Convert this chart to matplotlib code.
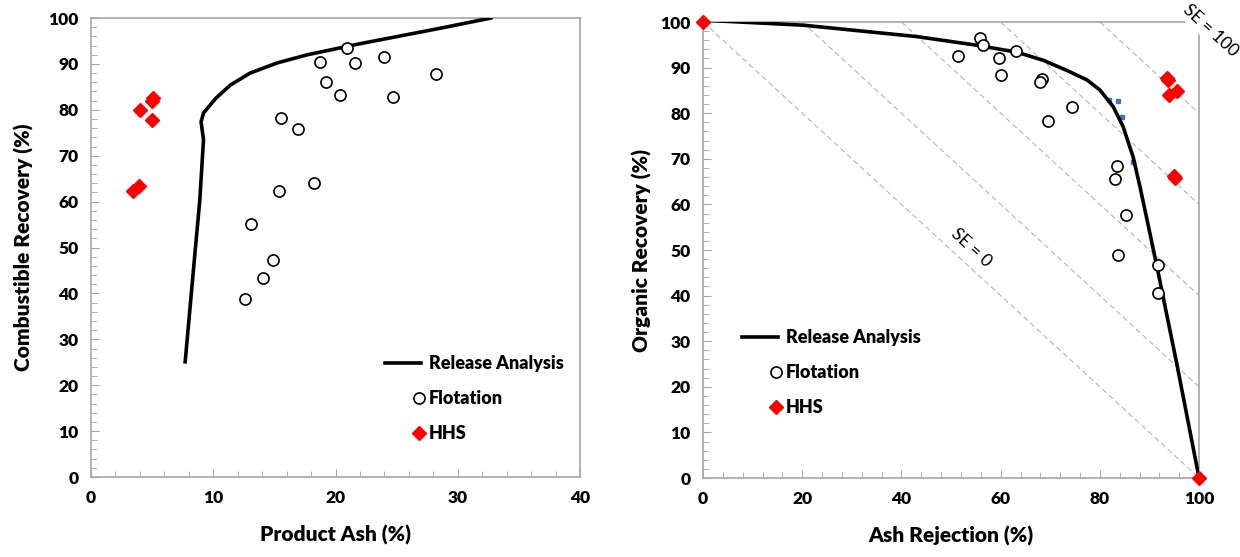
import numpy as np
import matplotlib
matplotlib.use("Agg")
import matplotlib.pyplot as plt
from matplotlib.ticker import MultipleLocator
from matplotlib.legend_handler import HandlerLine2D

plt.rcParams['font.family'] = ['Lato', 'DejaVu Sans']
WEIGHT = 'heavy'

# ---- left panel: product ash vs combustible recovery
rel_ash = [7.7, 8.4, 8.9, 9.2, 9.0, 9.2, 10.2, 11.4, 13.0, 15.2, 17.7, 21.8, 28.6, 32.7]
rel_comb = [25.1, 45.8, 60.4, 73.5, 77.4, 79.3, 82.5, 85.4, 88.0, 90.2, 92.0, 94.3, 97.8, 100.0]

flot_ash = [20.9, 18.7, 21.6, 24.0, 28.2, 19.2, 20.4, 24.7, 15.5, 16.9, 18.2, 15.4, 13.1, 14.9, 14.1, 12.6]
flot_comb = [93.4, 90.4, 90.3, 91.6, 87.9, 86.0, 83.2, 82.7, 78.3, 75.9, 64.0, 62.3, 55.2, 47.3, 43.4, 38.8]

hhs_ash = [5.1, 5.0, 4.0, 5.0, 3.9, 3.4]
hhs_comb = [82.5, 82.0, 80.0, 77.7, 63.3, 62.3]

# ---- right panel: ash rejection vs organic recovery
rel_rej = [0.0, 20.2, 43.1, 55.2, 63.2, 68.6, 73.3, 77.4, 80.0, 82.7, 84.7, 86.7, 88.1, 90.1, 91.8, 95.5, 100.0]
rel_org = [100.4, 99.3, 96.8, 94.9, 93.4, 91.6, 89.4, 87.3, 85.1, 81.4, 77.0, 70.4, 63.8, 53.6, 44.8, 25.1, 0.0]

rel_pts_rej = [81.8, 83.6, 84.5, 86.7]
rel_pts_org = [83.0, 82.6, 79.2, 69.2]

flot_rej = [55.8, 56.5, 51.3, 59.7, 63.1, 60.1, 68.3, 67.9, 74.3, 69.6, 83.4, 83.1, 85.2, 83.7, 91.7, 91.7]
flot_org = [96.5, 95.0, 92.5, 92.2, 93.6, 88.4, 87.4, 86.9, 81.3, 78.3, 68.4, 65.5, 57.6, 49.0, 46.7, 40.6]

hhs_rej = [0.0, 93.5, 93.8, 95.5, 94.0, 95.2, 94.9, 100.0]
hhs_org = [100.0, 87.8, 87.2, 84.8, 84.1, 65.8, 66.3, 0.0]

se_levels = [0, 20, 40, 60, 80]

spine_col = '#a6a6a6'


class RightMarker(HandlerLine2D):
    # single marker at the right end of the handle, next to the text
    def get_numpoints(self, legend):
        return 2

    def get_xdata(self, legend, xdescent, ydescent, width, height, fontsize):
        xm = np.array([width - xdescent - 0.12 * fontsize])
        return xm, xm


fig = plt.figure(figsize=(12.4, 5.57), dpi=100)
ax1 = fig.add_axes([0.0734, 0.1436, 0.3944, 0.824])
ax2 = fig.add_axes([0.567, 0.1418, 0.400, 0.8187])

def style(ax, xminor, yminor):
    for s in ax.spines.values():
        s.set_color(spine_col)
        s.set_linewidth(1.2)
    ax.xaxis.set_minor_locator(MultipleLocator(xminor))
    ax.yaxis.set_minor_locator(MultipleLocator(yminor))
    ax.tick_params(which='both', direction='in', color=spine_col, labelsize=12.5, pad=9)
    ax.tick_params(which='major', length=6)
    ax.tick_params(which='minor', length=4)
    for lab in ax.get_xticklabels() + ax.get_yticklabels():
        lab.set_fontweight(WEIGHT)

def add_legend(ax, markers, **kw):
    leg = ax.legend(frameon=False, fontsize=13, handlelength=2.0, handletextpad=0.45,
                    labelspacing=1.0, numpoints=1,
                    handler_map={m: RightMarker() for m in markers}, **kw)
    for t in leg.get_texts():
        t.set_fontweight(WEIGHT)
    return leg

# left
ax1.plot(rel_ash, rel_comb, color='black', lw=2.6, label='Release Analysis', zorder=3)
f1, = ax1.plot(flot_ash, flot_comb, 'o', mfc='white', mec='black', ms=8, mew=1.2, ls='none', label='Flotation', zorder=4)
h1, = ax1.plot(hhs_ash, hhs_comb, 'D', color='red', ms=7.5, ls='none', label='HHS', zorder=4)
ax1.set_xlim(0, 40)
ax1.set_ylim(0, 100)
ax1.set_xticks(range(0, 41, 10))
ax1.set_yticks(range(0, 101, 10))
style(ax1, 2, 2)
ax1.set_xlabel('Product Ash (%)', fontsize=15, fontweight=WEIGHT, labelpad=14)
ax1.set_ylabel('Combustible Recovery (%)', fontsize=15, fontweight=WEIGHT, labelpad=10)
add_legend(ax1, [f1, h1], loc='lower right', bbox_to_anchor=(1.0, 0.04))

# right
for se in se_levels:
    xs = np.array([se, 100])
    ax2.plot(xs, 100 + se - xs, color='#b5b5b5', lw=0.8, ls=(0, (5, 3)), zorder=1)
ax2.plot(rel_rej, rel_org, color='black', lw=2.6, label='Release Analysis', zorder=3)
ax2.plot(rel_pts_rej, rel_pts_org, 's', color='#4472c4', ms=2.5, ls='none', zorder=2)
f2, = ax2.plot(flot_rej, flot_org, 'o', mfc='white', mec='black', ms=8, mew=1.2, ls='none', label='Flotation', zorder=4)
h2, = ax2.plot(hhs_rej, hhs_org, 'D', color='red', ms=7.5, ls='none', label='HHS', zorder=5, clip_on=False)
ax2.set_xlim(0, 100)
ax2.set_ylim(0, 100)
ax2.set_xticks(range(0, 101, 20))
ax2.set_yticks(range(0, 101, 10))
style(ax2, 4, 2)
ax2.set_xlabel('Ash Rejection (%)', fontsize=15, fontweight=WEIGHT, labelpad=14)
ax2.set_ylabel('Organic Recovery (%)', fontsize=15, fontweight=WEIGHT, labelpad=6)
ax2.text(54, 50.5, 'SE = 0', rotation=-42.6, fontsize=12.5, fontweight='normal',
         ha='center', va='center')
ax2.text(102.3, 98.2, 'SE = 100', rotation=-42.6, fontsize=12.5, fontweight='normal',
         ha='center', va='center', clip_on=False, zorder=6,
         bbox=dict(facecolor='white', edgecolor='none', pad=2))
add_legend(ax2, [f2, h2], loc='lower left', bbox_to_anchor=(0.045, 0.1))

fig.savefig('out.png', dpi=100)
